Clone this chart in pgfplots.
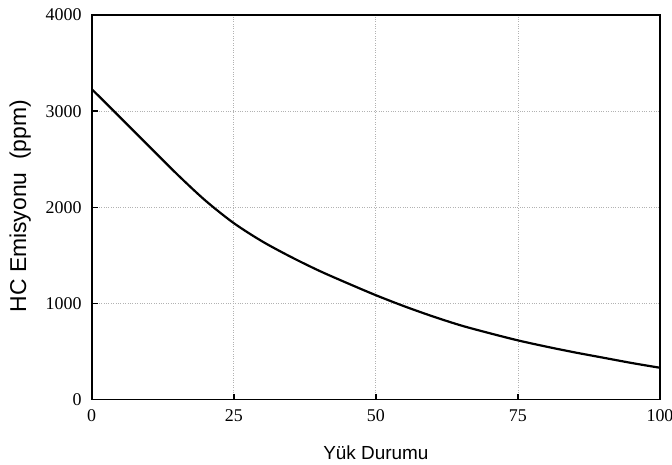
\documentclass[border=0pt]{standalone}
\usepackage{fontspec}
\setmainfont{Liberation Serif}
\newfontfamily\labfont{Liberation Sans}
\usepackage{pgfplots}
\pgfplotsset{compat=1.18}
\begin{document}
\begin{tikzpicture}
\begin{axis}[
  scale only axis, width=568.3bp, height=384.5bp,
  xmin=0, xmax=100, ymin=0, ymax=4000,
  xtick={0,25,50,75,100}, ytick={0,1000,2000,3000,4000},
  xticklabels={0,25,50,75,100},
  yticklabels={0,1000,2000,3000,4000},
  tick align=inside, major tick length=6bp,
  xtick pos=bottom, ytick pos=left,
  axis line style={line width=1.8bp},
  every tick/.style={line width=1.5bp, black},
  grid=major, grid style={dotted, gray!60, line width=0.8bp},
  xticklabel style={font=\fontsize{18}{18}\selectfont, inner sep=0pt, yshift=-10bp},
  yticklabel style={font=\fontsize{18}{18}\selectfont, inner sep=0pt, xshift=-10bp},
  xlabel={\labfont\fontsize{19}{19}\selectfont Yük Durumu},
  ylabel={\labfont\fontsize{23}{23}\selectfont HC Emisyonu\ \ (ppm)},
  xlabel style={at={(axis description cs:0.5,-0.139)}, anchor=center},
  ylabel style={at={(axis description cs:-0.126,0.503)}, anchor=center, rotate=0},
]
\addplot[black, line width=2.2bp, smooth] coordinates {
(0,3230) (5,2935) (10,2640) (15,2345) (20,2070) (25,1835)
(30,1645) (35,1485) (40,1340) (45,1210) (50,1085) (55,970)
(60,865) (65,770) (70,690) (75,615) (80,550) (85,490)
(90,435) (95,380) (100,330)
};
\end{axis}
\pgfresetboundingbox
\path (current axis.south west) ++(-91.7bp,-65.5bp) rectangle ++(672bp,465bp);
\end{tikzpicture}
\end{document}
